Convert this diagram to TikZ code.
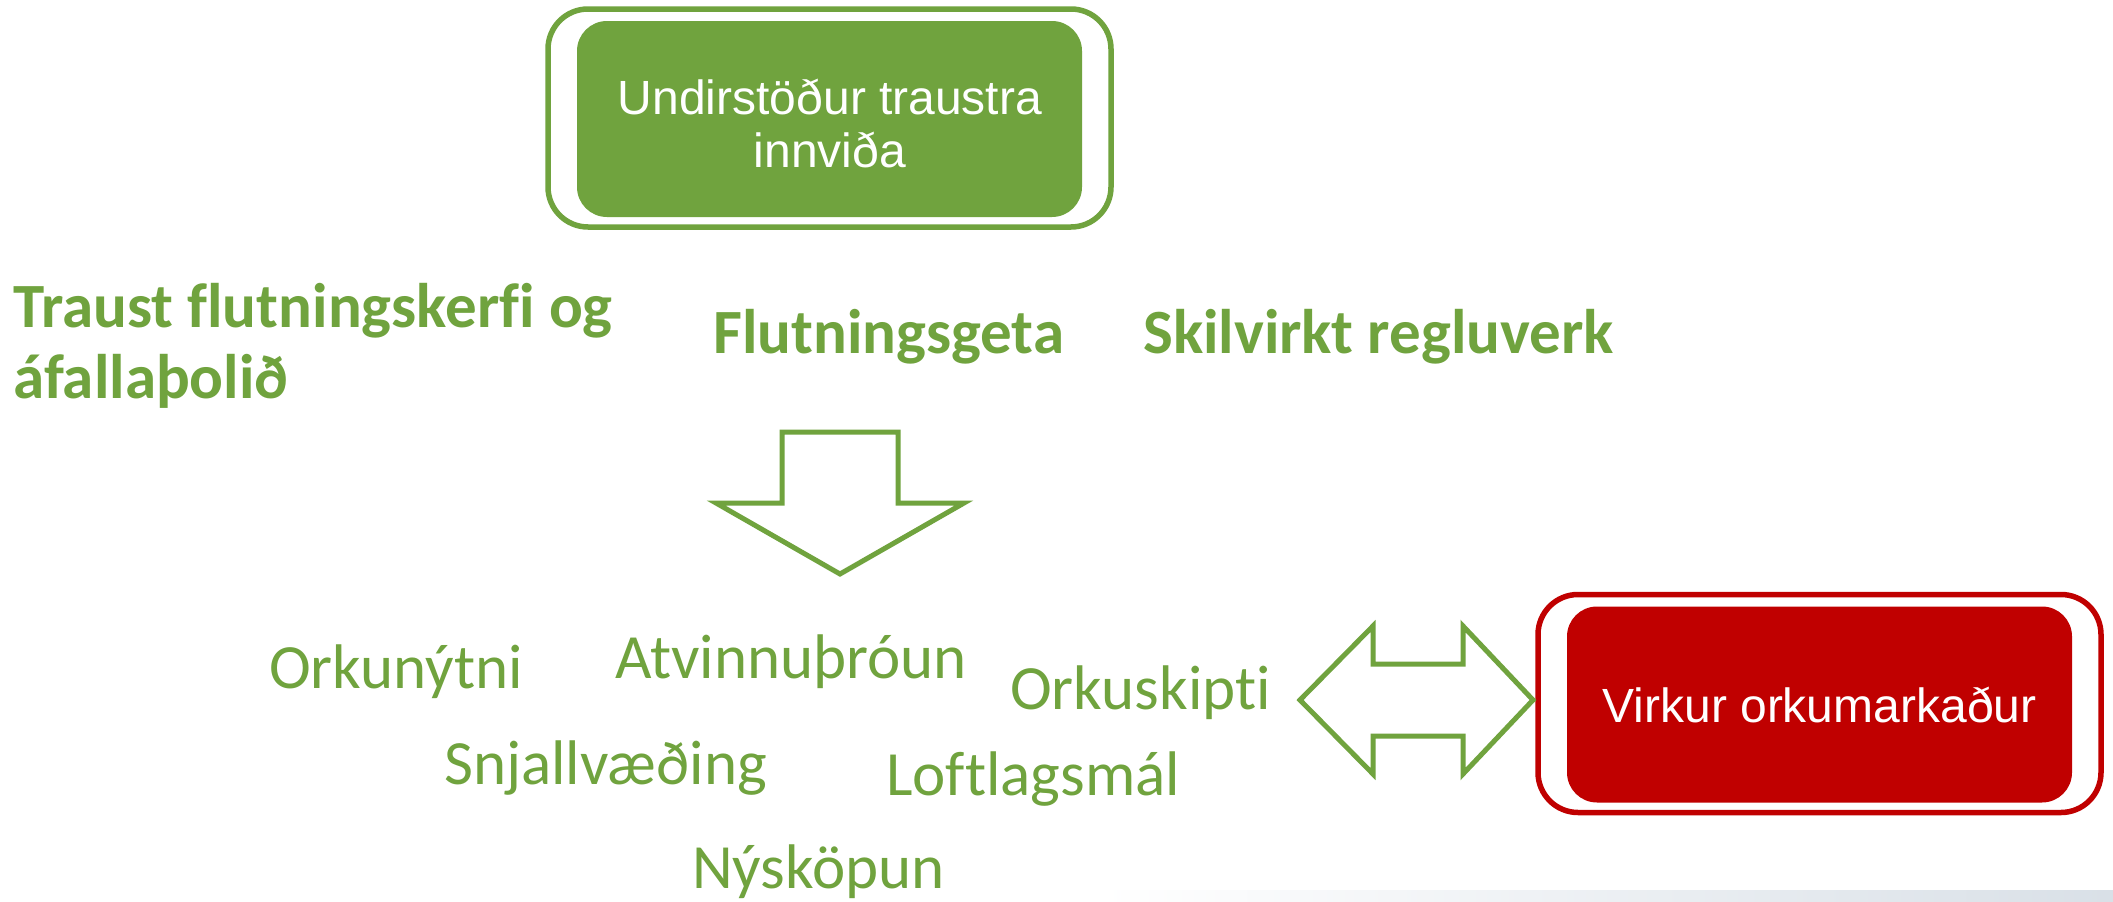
\documentclass[tikz,border=0pt]{standalone}
\usepackage{fontspec}
\setmainfont{Carlito}[Ligatures={NoCommon}]
\newfontfamily\arialf{Liberation Sans}
\definecolor{grn}{RGB}{112,163,62}
\definecolor{rd}{RGB}{192,0,0}
\definecolor{barc}{RGB}{217,224,231}
\begin{document}
\begin{tikzpicture}[x=1pt,y=-1pt,
  outerbox/.style={draw, line width=5.5pt, rounded corners=40pt, minimum width=563pt, minimum height=218pt, inner sep=0pt, fill=white},
  innerbox/.style={rounded corners=30pt, minimum width=505pt, minimum height=196pt, inner sep=0pt},
  boxtext/.style={font=\arialf\fontsize{48}{53}\selectfont, text=white, align=center, inner sep=0pt},
  boldtext/.style={font=\bfseries\fontsize{63}{71}\selectfont, text=grn, inner sep=0pt, anchor=base west},
  lighttext/.style={font=\fontsize{63}{71}\selectfont, text=grn, inner sep=0pt, anchor=base west},
  blockarrow/.style={draw=grn, line width=5pt, line join=miter, fill=white}]
\useasboundingbox (0,0) rectangle (2113,902);
\fill[white] (0,0) rectangle (2113,902);
\shade[left color=white, right color=barc] (1100,890) rectangle (2113,902);

% top box
\node[outerbox, draw=grn] (topouter) at (829.5,118) {};
\node[innerbox, fill=grn] (topinner) at (829.5,119) {};
\node[boxtext] (toptext) at (830,123) {Undirstöður traustra\\innviða};

% bold texts
\node[boldtext] (trust1) at (13,327) {Traust flutningskerfi og};
\node[boldtext] (trust2) at (13,398) {áfallaþolið};
\node[boldtext] (flutn) at (713,353) {Flutningsgeta};
\node[boldtext] (skilv) at (1143,353) {Skilvirkt regluverk};

% down arrow
\draw[blockarrow] (782,432) -- (898,432) -- (898,503) -- (964,503) -- (840,574) -- (716,503) -- (782,503) -- cycle;

% light texts
\node[lighttext] (orkunytni) at (269,688) {Orkunýtni};
\node[lighttext] (atvinnu) at (615,678) {Atvinnuþróun};
\node[lighttext] (orkuskipti) at (1010,709) {Orkuskipti};
\node[lighttext] (snjall) at (444,784) {Snjallvæðing};
\node[lighttext] (loftlag) at (886,795) {Loftlagsmál};
\node[lighttext] (nysk) at (692,888) {Nýsköpun};

% red box
\node[outerbox, draw=rd] (redouter) at (1819.5,703.5) {};
\node[innerbox, fill=rd, boxtext] (redinner) at (1819.5,704.5) {Virkur orkumarkaður};

% double arrow
\draw[blockarrow] (1300,700) -- (1373,626) -- (1373,664) -- (1463,664) -- (1463,626) -- (1533,700) -- (1463,774) -- (1463,736) -- (1373,736) -- (1373,774) -- cycle;
\end{tikzpicture}
\end{document}
